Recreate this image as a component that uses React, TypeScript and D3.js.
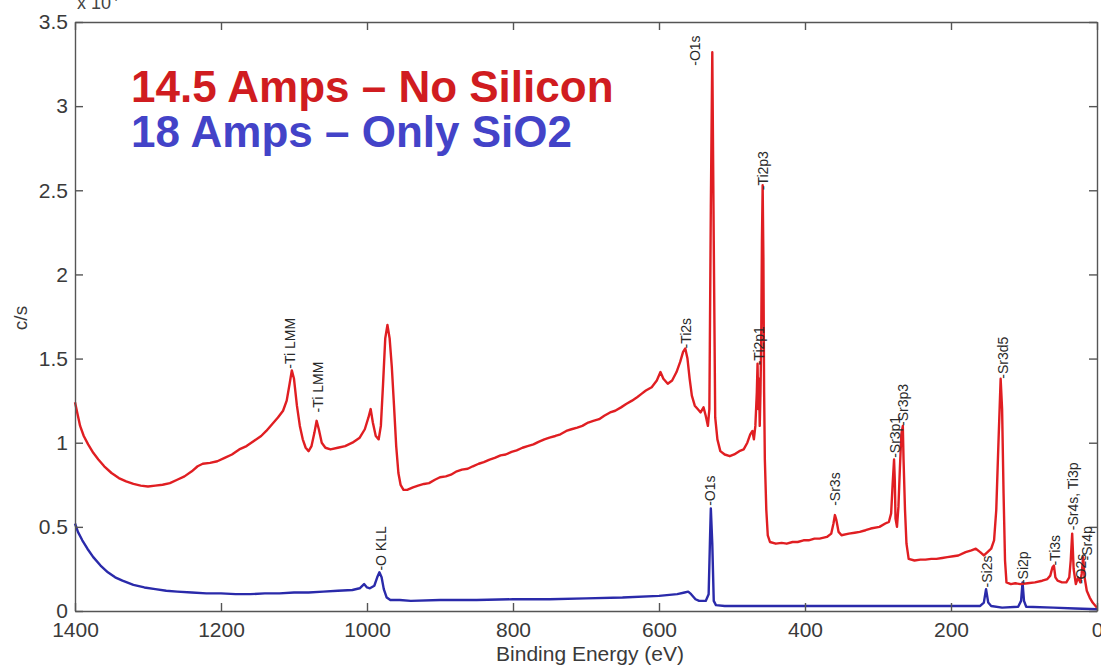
import React, { useEffect, useRef } from 'react';
import * as d3 from 'd3';

// binding energy (eV) and counts (x10^4 c/s)
const redEnergy = [1400, 1397, 1393, 1388, 1382, 1375, 1368, 1360, 1350, 1340, 1330, 1320, 1310, 1300, 1290, 1280, 1270, 1260, 1250, 1240, 1232, 1225, 1215, 1205, 1195, 1185, 1175, 1165, 1155, 1145, 1138, 1130, 1122, 1115, 1110, 1106, 1103, 1100, 1096, 1092, 1088, 1084, 1080, 1076, 1072, 1069, 1066, 1062, 1057, 1050, 1040, 1030, 1020, 1010, 1003, 998, 995, 992, 988, 984, 981, 978, 975, 972, 969, 966, 963, 960, 957, 954, 950, 945, 937, 930, 922, 915, 907, 900, 892, 885, 877, 870, 862, 855, 847, 840, 832, 825, 817, 810, 802, 795, 787, 780, 772, 765, 757, 750, 742, 735, 727, 720, 712, 705, 697, 690, 682, 675, 667, 660, 652, 645, 637, 630, 624, 618, 610, 603, 598, 594, 588, 582, 576, 571, 567, 564, 561, 558, 555, 551, 547, 543, 539, 536, 533, 531, 529, 527, 525, 523, 520, 516, 510, 503, 497, 490, 484, 479, 475, 472, 470, 468, 466, 465, 464, 463, 462, 461, 460, 459, 458, 457, 456, 455, 453, 451, 448, 440, 432, 425, 417, 410, 402, 395, 387, 380, 370, 364, 361, 359, 357, 354, 350, 340, 332, 325, 317, 310, 298, 290, 285, 282, 280, 278, 277, 276, 274, 272, 270, 268, 266, 265, 263, 261, 258, 250, 242, 235, 227, 220, 212, 205, 197, 190, 180, 172, 166, 160, 155, 150, 145, 141, 138, 135, 132, 130, 128, 126, 124, 118, 112, 105, 95, 85, 75, 68, 64, 61, 59, 57, 54, 48, 42, 38, 36, 34, 32, 29, 26, 23, 21, 19, 17, 14, 10, 6, 2, 0];
const redCps = [1.24, 1.18, 1.1, 1.04, 0.99, 0.94, 0.9, 0.86, 0.82, 0.79, 0.77, 0.755, 0.745, 0.74, 0.745, 0.75, 0.76, 0.78, 0.8, 0.83, 0.86, 0.875, 0.88, 0.89, 0.91, 0.93, 0.96, 0.98, 1.01, 1.04, 1.07, 1.11, 1.15, 1.19, 1.25, 1.35, 1.43, 1.38, 1.22, 1.1, 1.02, 0.97, 0.95, 0.98, 1.06, 1.13, 1.08, 1.0, 0.97, 0.96, 0.97, 0.98, 1.0, 1.03, 1.08, 1.15, 1.2, 1.12, 1.04, 1.02, 1.1, 1.35, 1.62, 1.7, 1.62, 1.45, 1.22, 0.98, 0.82, 0.75, 0.72, 0.72, 0.735, 0.745, 0.755, 0.76, 0.78, 0.795, 0.8, 0.81, 0.83, 0.84, 0.845, 0.86, 0.875, 0.885, 0.9, 0.91, 0.925, 0.93, 0.945, 0.955, 0.97, 0.98, 0.99, 1.005, 1.02, 1.03, 1.04, 1.05, 1.07, 1.08, 1.09, 1.1, 1.12, 1.13, 1.14, 1.16, 1.18, 1.19, 1.21, 1.23, 1.25, 1.27, 1.29, 1.31, 1.33, 1.37, 1.42, 1.38, 1.35, 1.37, 1.42, 1.48, 1.54, 1.56, 1.5, 1.38, 1.28, 1.22, 1.2, 1.18, 1.21, 1.16, 1.1, 1.2, 2.4, 3.32, 2.2, 1.15, 1.02, 0.95, 0.93, 0.92, 0.93, 0.95, 0.96, 1.0, 1.05, 1.07, 1.02, 1.1, 1.3, 1.47, 1.2, 1.38, 1.1, 1.3, 1.6, 2.2, 2.53, 2.1, 1.3, 0.9, 0.6, 0.45, 0.41, 0.4, 0.405, 0.4, 0.41, 0.41, 0.42, 0.42, 0.43, 0.43, 0.44, 0.46, 0.52, 0.57, 0.54, 0.47, 0.45, 0.46, 0.465, 0.47, 0.48, 0.49, 0.5, 0.52, 0.53, 0.58, 0.75, 0.9, 0.78, 0.55, 0.5, 0.62, 0.85, 1.05, 1.1, 0.9, 0.6, 0.4, 0.31, 0.3, 0.305, 0.305, 0.31, 0.31, 0.315, 0.32, 0.325, 0.33, 0.35, 0.36, 0.37, 0.35, 0.33, 0.35, 0.37, 0.42, 0.6, 1.0, 1.38, 1.2, 0.7, 0.3, 0.17, 0.16, 0.165, 0.16, 0.165, 0.17, 0.18, 0.19, 0.21, 0.26, 0.27, 0.2, 0.18, 0.17, 0.17, 0.2, 0.3, 0.46, 0.25, 0.16, 0.2, 0.17, 0.22, 0.32, 0.2, 0.12, 0.08, 0.05, 0.03, 0.02];

const blueEnergy = [1400, 1396, 1390, 1383, 1375, 1365, 1355, 1345, 1335, 1320, 1305, 1290, 1275, 1260, 1240, 1220, 1200, 1180, 1160, 1140, 1120, 1100, 1080, 1060, 1040, 1020, 1010, 1004, 1000, 996, 990, 986, 983, 980, 977, 973, 968, 955, 940, 900, 850, 800, 750, 700, 650, 600, 575, 565, 560, 556, 550, 545, 536, 532, 530, 529, 527, 525, 522, 510, 450, 400, 300, 200, 160, 155, 152, 149, 145, 130, 108, 104, 102, 100, 97, 60, 30, 0];
const blueCps = [0.52, 0.47, 0.42, 0.37, 0.32, 0.27, 0.23, 0.2, 0.18, 0.155, 0.14, 0.13, 0.12, 0.115, 0.11, 0.105, 0.105, 0.1, 0.1, 0.105, 0.105, 0.11, 0.11, 0.115, 0.12, 0.125, 0.135, 0.16, 0.14, 0.135, 0.15, 0.2, 0.23, 0.2, 0.13, 0.08, 0.065, 0.065, 0.06, 0.065, 0.065, 0.07, 0.07, 0.075, 0.08, 0.09, 0.1, 0.11, 0.115, 0.1, 0.07, 0.06, 0.06, 0.1, 0.45, 0.61, 0.4, 0.06, 0.035, 0.03, 0.03, 0.03, 0.03, 0.03, 0.03, 0.05, 0.13, 0.05, 0.03, 0.02, 0.025, 0.06, 0.17, 0.06, 0.025, 0.02, 0.015, 0.01];

const peakNames = ['-Ti LMM', '-Ti LMM', '-O KLL', '-Ti2s', '-O1s', '-Ti2p3', '-Ti2p1', '-O1s', '-Sr3s', '-Sr3p1', '-Sr3p3', '-Sr3d5', '-Si2s', '-Si2p', '-Ti3s', '-Sr4s, Ti3p', '-O2s', '-Sr4p'];
const peakEnergy = [1105, 1067, 981, 563, 551, 458, 463, 530, 359, 277, 266, 129, 151, 101, 58, 33, 22, 14];
const peakCps = [1.44, 1.18, 0.24, 1.56, 3.24, 2.5, 1.46, 0.625, 0.625, 0.91, 1.1, 1.38, 0.14, 0.16, 0.27, 0.48, 0.16, 0.3];

const xTicks = [1400, 1200, 1000, 800, 600, 400, 200, 0];
const yTicks = [0, 0.5, 1, 1.5, 2, 2.5, 3, 3.5];

const App = () => {
  const ref = useRef<SVGSVGElement>(null);

  useEffect(() => {
    const svg = d3.select(ref.current);
    svg.selectAll('*').remove();
    const font = '"Liberation Sans", Arial, sans-serif';
    const left = 75, right = 1097, top = 22, bottom = 611;

    const x = d3.scaleLinear().domain([1400, 0]).range([left, right]);
    const y = d3.scaleLinear().domain([0, 3.5]).range([bottom, top]);

    svg.append('rect').attr('width', 1101).attr('height', 670).attr('fill', '#fff');

    const line = d3.line<[number, number]>().x(d => x(d[0])).y(d => y(d[1]));
    const red = redEnergy.map((e, i) => [e, redCps[i]] as [number, number]);
    const blue = blueEnergy.map((e, i) => [e, blueCps[i]] as [number, number]);

    svg.append('path').attr('d', line(blue)).attr('fill', 'none')
      .attr('stroke', '#2a2aaa').attr('stroke-width', 2.4).attr('stroke-linejoin', 'round');
    svg.append('path').attr('d', line(red)).attr('fill', 'none')
      .attr('stroke', '#e01e22').attr('stroke-width', 2.4).attr('stroke-linejoin', 'round');

    // axes box with inward ticks
    const styleAxis = (g: any) => {
      g.select('.domain').attr('stroke', '#555').attr('stroke-width', 1.4);
      g.selectAll('.tick line').attr('stroke', '#555').attr('stroke-width', 1.4);
      g.selectAll('text').attr('fill', '#3a3a3a').attr('font-family', font).attr('font-size', 21);
    };
    svg.append('g').attr('transform', `translate(0,${bottom})`)
      .call(d3.axisBottom(x).tickValues(xTicks).tickSizeInner(-8).tickSizeOuter(0).tickPadding(11).tickFormat(d3.format('d')))
      .call(styleAxis);
    svg.append('g').attr('transform', `translate(${left},0)`)
      .call(d3.axisLeft(y).tickValues(yTicks).tickSizeInner(-8).tickSizeOuter(0).tickPadding(7).tickFormat(d3.format('')))
      .call(styleAxis);
    svg.append('g').attr('transform', `translate(0,${top})`)
      .call(d3.axisTop(x).tickValues(xTicks).tickSizeInner(-8).tickSizeOuter(0).tickFormat(() => ''))
      .call(styleAxis);
    svg.append('g').attr('transform', `translate(${right},0)`)
      .call(d3.axisRight(y).tickValues(yTicks).tickSizeInner(-8).tickSizeOuter(0).tickFormat(() => ''))
      .call(styleAxis);

    svg.selectAll('.domain').attr('fill', 'none');

    // peak labels
    svg.append('g').selectAll('text')
      .data(peakNames)
      .enter().append('text')
      .attr('transform', (d, i) => `translate(${x(peakEnergy[i]) + 5},${y(peakCps[i])}) rotate(-90)`)
      .attr('font-family', font)
      .attr('font-size', 14)
      .attr('fill', '#2a2a2a')
      .text(d => d);

    // exponent, clipped by the top of the picture
    const expo = svg.append('text').attr('x', 77).attr('y', 9)
      .attr('font-family', font).attr('font-size', 18).attr('fill', '#444');
    expo.append('tspan').text('x 10');
    expo.append('tspan').attr('dy', -8).attr('font-size', 13).text('4');

    svg.append('text')
      .attr('transform', 'translate(27,318) rotate(-90)')
      .attr('text-anchor', 'middle')
      .attr('font-family', font).attr('font-size', 19).attr('fill', '#3a3a3a')
      .text('c/s');

    svg.append('text')
      .attr('x', 590).attr('y', 661)
      .attr('text-anchor', 'middle')
      .attr('font-family', font).attr('font-size', 21).attr('fill', '#3a3a3a')
      .text('Binding Energy (eV)');

    // legend text
    svg.append('text').attr('x', 131).attr('y', 102)
      .attr('font-family', font).attr('font-size', 44).attr('font-weight', 'bold')
      .attr('fill', '#d01c20').text('14.5 Amps – No Silicon');
    svg.append('text').attr('x', 131).attr('y', 147)
      .attr('font-family', font).attr('font-size', 44).attr('font-weight', 'bold')
      .attr('fill', '#4343c8').text('18 Amps – Only SiO2');
  }, []);

  return (
    <svg ref={ref} width={1101} height={670}
      style={{ position: 'absolute', left: 0, top: 0, display: 'block' }} />
  );
};

export default App;
